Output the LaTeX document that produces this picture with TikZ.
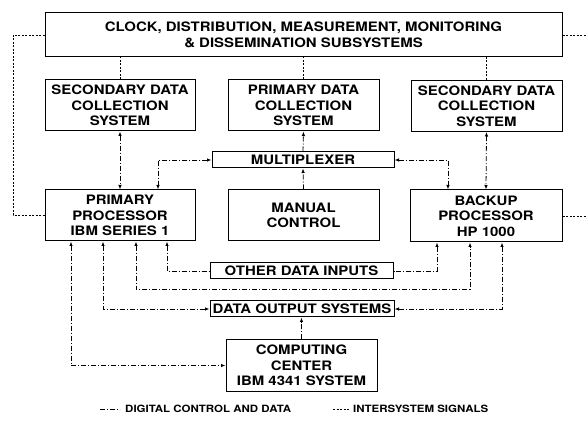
\documentclass[tikz,border=0pt]{standalone}
\usepackage{fontspec}
\setmainfont{TeX Gyre Heros}[FakeStretch=1.15]
\usetikzlibrary{arrows.meta}
\begin{document}
\begin{tikzpicture}[x=1pt,y=-1pt,
  box/.style={draw, line width=1pt, align=center, inner sep=0pt,
    font=\fontsize{13}{15.5}\selectfont\bfseries},
  leg/.style={inner sep=0pt, anchor=west, font=\fontsize{10}{12}\selectfont\bfseries},
  dd/.style={line width=0.8pt, dash pattern=on 5pt off 2pt on 1pt off 2pt},
  ds/.style={line width=0.8pt, dash pattern=on 2pt off 1.5pt},
  >={Latex[length=4.5pt,width=3.5pt]}]
\useasboundingbox (0,0) rectangle (587,422);
% boxes
\node[box, minimum width=517, minimum height=44] (top) at (303.5,35)
  {CLOCK, DISTRIBUTION, MEASUREMENT, MONITORING\\\& DISSEMINATION SUBSYSTEMS};
\node[box, minimum width=150, minimum height=51] (sdcL) at (120,105.5)
  {SECONDARY DATA\\COLLECTION\\SYSTEM};
\node[box, minimum width=151, minimum height=51] (pdc) at (303.5,105.5)
  {PRIMARY DATA\\COLLECTION\\SYSTEM};
\node[box, minimum width=151, minimum height=51] (sdcR) at (486.5,106)
  {SECONDARY DATA\\COLLECTION\\SYSTEM};
\node[box, minimum width=182, minimum height=16] (mux) at (303,160) {MULTIPLEXER};
\node[box, minimum width=150, minimum height=51] (pp) at (120,215.5)
  {PRIMARY\\PROCESSOR\\IBM SERIES 1};
\node[box, minimum width=151, minimum height=51] (mc) at (303.5,215.5)
  {MANUAL\\CONTROL};
\node[box, minimum width=152, minimum height=52] (bp) at (486,216)
  {BACKUP\\PROCESSOR\\HP 1000};
\node[box, minimum width=183, minimum height=16] (odi) at (301.5,271) {OTHER DATA INPUTS};
\node[box, minimum width=184, minimum height=16] (dos) at (302,309) {DATA OUTPUT SYSTEMS};
\node[box, minimum width=151, minimum height=51] (cc) at (301.5,365.5)
  {COMPUTING\\CENTER\\IBM 4341 SYSTEM};
% intersystem signals
\coordinate (rE1) at (587,35);
\coordinate (rE2) at (587,216);
\coordinate (lX) at (13,35);
\draw[ds] (top.west) -- (lX) |- (pp.west);
\draw[ds] (top.east) -- (rE1);
\draw[ds] (bp.east) -- (rE2);
\draw[ds] (sdcL.north) -- (sdcL.north |- top.south);
\draw[ds] (pdc.north) -- (pdc.north |- top.south);
\draw[ds] (sdcR.north) -- (sdcR.north |- top.south);
% digital control and data
\draw[dd,<->] (sdcL.south) -- (pp.north);
\draw[dd,<->] (mux.west) -| ([xshift=38]pp.north);
\draw[dd,<->] (mux.east) -| ([xshift=-38]bp.north);
\draw[dd,<->] (sdcR.south) -- (bp.north);
\draw[dd,->] (mux.north) -- (pdc.south);
\draw[dd,->] (mc.north) -- (mux.south);
\draw[dd,<->] ([xshift=-49]pp.south) |- (cc.west);
\draw[dd,<->] ([xshift=-17]pp.south) |- (dos.west);
\draw[dd,<->] ([xshift=16]pp.south) -- ++(0,48) -| ([xshift=-16]bp.south);
\draw[dd,<-] ([xshift=47]pp.south) |- (odi.west);
\draw[dd,<-] ([xshift=-49]bp.south) |- (odi.east);
\draw[dd,<->] ([xshift=16]bp.south) |- (dos.east);
\draw[dd,->] (cc.north) -- (cc.north |- dos.south);
% legend
\node[leg] (lg1) at (125,409) {DIGITAL CONTROL AND DATA};
\node[leg] (lg2) at (353,409) {INTERSYSTEM SIGNALS};
\coordinate (lg1a) at (100,409);
\coordinate (lg2a) at (333,409);
\draw[dd] (lg1a) -- ([xshift=-5]lg1.west);
\draw[ds] (lg2a) -- ([xshift=-4]lg2.west);
\end{tikzpicture}
\end{document}
